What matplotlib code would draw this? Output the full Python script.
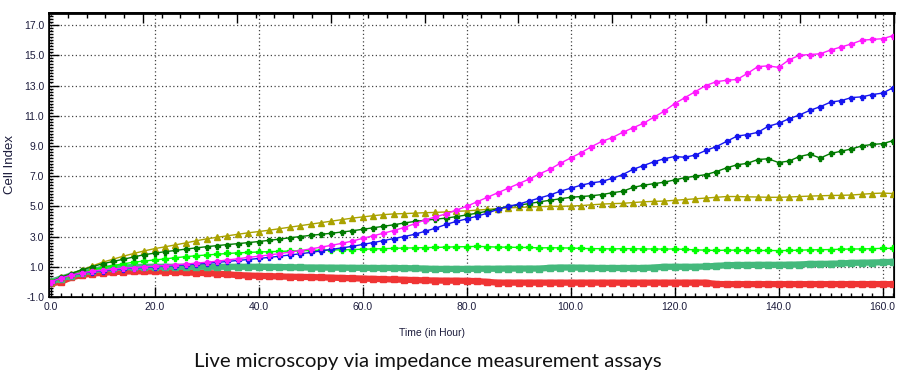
import matplotlib
matplotlib.use("Agg")
import matplotlib.pyplot as plt
from matplotlib.ticker import MultipleLocator, FormatStrFormatter

# time points (hours), every 2 h
hours = list(range(0, 164, 2))

magenta = [0.0, 0.25, 0.45, 0.6, 0.7, 0.78, 0.85, 0.9, 0.95, 1.0,
           1.03, 1.08, 1.13, 1.18, 1.24, 1.3, 1.37, 1.45, 1.53, 1.62,
           1.7, 1.78, 1.87, 1.97, 2.07, 2.18, 2.3, 2.42, 2.55, 2.7,
           2.88, 3.05, 3.22, 3.4, 3.6, 3.85, 4.1, 4.3, 4.5, 4.75,
           5.0, 5.3, 5.6, 5.9, 6.2, 6.5, 6.8, 7.15, 7.45, 7.85,
           8.2, 8.55, 8.95, 9.3, 9.55, 9.9, 10.2, 10.5, 10.9, 11.3,
           11.8, 12.2, 12.6, 13.0, 13.25, 13.35, 13.4, 13.8, 14.25, 14.3,
           14.2, 14.7, 15.0, 15.05, 15.1, 15.35, 15.55, 15.75, 16.0, 16.05,
           16.1, 16.3]

blue = [0.0, 0.25, 0.45, 0.58, 0.68, 0.75, 0.82, 0.87, 0.92, 0.96,
        1.0, 1.04, 1.08, 1.13, 1.18, 1.23, 1.29, 1.35, 1.42, 1.48,
        1.55, 1.62, 1.7, 1.78, 1.86, 1.95, 2.05, 2.15, 2.25, 2.35,
        2.48, 2.6, 2.73, 2.87, 3.0, 3.15, 3.35, 3.55, 3.8, 4.0,
        4.17, 4.35, 4.55, 4.8, 5.0, 5.15, 5.35, 5.55, 5.75, 6.0,
        6.2, 6.4, 6.55, 6.65, 6.85, 7.1, 7.45, 7.7, 7.95, 8.15,
        8.3, 8.25, 8.4, 8.7, 8.95, 9.3, 9.65, 9.75, 9.9, 10.3,
        10.5, 10.8, 11.05, 11.35, 11.6, 11.9, 12.0, 12.2, 12.25, 12.4,
        12.5, 12.85]

dark_green = [0.0, 0.3, 0.55, 0.8, 1.0, 1.2, 1.35, 1.5, 1.65, 1.8,
              1.9, 2.0, 2.08, 2.17, 2.25, 2.33, 2.4, 2.47, 2.53, 2.6,
              2.67, 2.75, 2.83, 2.92, 3.0, 3.08, 3.15, 3.22, 3.3, 3.38,
              3.48, 3.58, 3.68, 3.78, 3.9, 4.0, 4.08, 4.15, 4.22, 4.32,
              4.43, 4.55, 4.68, 4.85, 5.0, 5.08, 5.18, 5.3, 5.4, 5.5,
              5.6, 5.65, 5.7, 5.78, 5.9, 6.0, 6.25, 6.4, 6.5, 6.6,
              6.75, 6.9, 7.0, 7.1, 7.3, 7.55, 7.75, 7.85, 8.1, 8.15,
              7.9, 8.0, 8.3, 8.45, 8.2, 8.5, 8.65, 8.8, 9.0, 9.1,
              9.15, 9.35]

olive = [0.0, 0.3, 0.55, 0.8, 1.05, 1.3, 1.5, 1.7, 1.88, 2.05,
         2.2, 2.32, 2.45, 2.58, 2.72, 2.85, 2.95, 3.05, 3.15, 3.25,
         3.33, 3.42, 3.52, 3.62, 3.72, 3.82, 3.92, 4.02, 4.12, 4.22,
         4.3, 4.38, 4.45, 4.5, 4.52, 4.55, 4.58, 4.6, 4.63, 4.67,
         4.7, 4.75, 4.8, 4.85, 4.9, 4.93, 4.96, 4.98, 5.0, 5.0,
         5.02, 5.05, 5.1, 5.15, 5.18, 5.2, 5.25, 5.3, 5.33, 5.35,
         5.4, 5.45, 5.5, 5.55, 5.6, 5.65, 5.65, 5.63, 5.62, 5.6,
         5.6, 5.62, 5.65, 5.68, 5.7, 5.72, 5.73, 5.75, 5.8, 5.85,
         5.88, 5.85]

lime = [0.0, 0.25, 0.45, 0.62, 0.8, 0.95, 1.08, 1.2, 1.3, 1.38,
        1.45, 1.52, 1.6, 1.67, 1.73, 1.78, 1.83, 1.88, 1.92, 1.95,
        1.98, 2.0, 2.02, 2.04, 2.06, 2.08, 2.1, 2.12, 2.12, 2.14,
        2.16, 2.18, 2.2, 2.22, 2.24, 2.25, 2.27, 2.28, 2.3, 2.32,
        2.33, 2.35, 2.33, 2.3, 2.3, 2.28, 2.28, 2.25, 2.26, 2.25,
        2.24, 2.22, 2.2, 2.2, 2.18, 2.2, 2.2, 2.18, 2.18, 2.17,
        2.18, 2.15, 2.12, 2.1, 2.08, 2.1, 2.1, 2.08, 2.08, 2.08,
        2.07, 2.08, 2.1, 2.12, 2.13, 2.14, 2.16, 2.18, 2.18, 2.2,
        2.22, 2.22]

sea_green = [0.0, 0.22, 0.42, 0.6, 0.75, 0.85, 0.92, 0.96, 0.98, 1.0,
             1.0, 1.0, 1.0, 1.0, 1.0, 1.0, 1.0, 1.0, 1.0, 1.0,
             1.0, 0.99, 0.98, 0.97, 0.96, 0.95, 0.95, 0.94, 0.94, 0.93,
             0.93, 0.92, 0.92, 0.92, 0.91, 0.9, 0.88, 0.86, 0.86, 0.86,
             0.86, 0.87, 0.87, 0.87, 0.88, 0.88, 0.88, 0.88, 0.93, 0.95,
             0.95, 0.94, 0.93, 0.92, 0.92, 0.92, 0.92, 0.92, 0.95, 1.0,
             1.0, 1.0, 1.0, 1.02, 1.06, 1.1, 1.12, 1.12, 1.13, 1.13,
             1.13, 1.14, 1.15, 1.19, 1.19, 1.2, 1.22, 1.26, 1.27, 1.28,
             1.3, 1.33]

red = [-0.1, 0.0, 0.3, 0.45, 0.55, 0.6, 0.65, 0.68, 0.7, 0.7,
       0.7, 0.68, 0.66, 0.63, 0.6, 0.58, 0.55, 0.5, 0.45, 0.42,
       0.4, 0.38, 0.36, 0.34, 0.33, 0.32, 0.3, 0.28, 0.26, 0.24,
       0.22, 0.2, 0.18, 0.16, 0.14, 0.12, 0.1, 0.09, 0.08, 0.08,
       0.07, 0.05, 0.0, -0.05, -0.05, -0.05, -0.05, -0.05, -0.05, -0.05,
       -0.05, -0.05, -0.05, -0.05, -0.05, -0.05, -0.05, -0.05, -0.05, -0.05,
       -0.05, -0.05, -0.05, -0.05, -0.14, -0.15, -0.15, -0.15, -0.15, -0.15,
       -0.15, -0.15, -0.15, -0.15, -0.15, -0.15, -0.15, -0.15, -0.15, -0.15,
       -0.15, -0.15]

fig = plt.figure(figsize=(9, 3.85), dpi=100)
ax = fig.add_axes([0.0544, 0.2286, 0.939, 0.7376])

# thick square bands first
ax.plot(hours, red, color="#f03434", lw=4.5, marker="s", ms=4.5, zorder=3)
ax.plot(hours, sea_green, color="#44b97c", lw=4.5, marker="s", ms=4.5, zorder=3)
ax.plot(hours, lime, color="#00ff00", lw=1.0, marker="P", ms=3.8, zorder=4)
ax.plot(hours, olive, color="#aaa200", lw=1.0, marker="^", ms=4, zorder=4)
ax.plot(hours, dark_green, color="#007a00", lw=1.0, marker="P", ms=3.6, zorder=5)
ax.plot(hours, blue, color="#1515ee", lw=1.0, marker="P", ms=3.6, zorder=5)
ax.plot(hours, magenta, color="#ff1aff", lw=1.0, marker="P", ms=3.6, zorder=6)

ax.set_xlim(-0.3, 162.2)
ax.set_ylim(-1.0, 17.8)

ax.xaxis.set_major_locator(MultipleLocator(20))
ax.xaxis.set_minor_locator(MultipleLocator(2))
ax.yaxis.set_major_locator(plt.FixedLocator([-1, 1, 3, 5, 7, 9, 11, 13, 15, 17]))
ax.yaxis.set_minor_locator(MultipleLocator(0.2))
ax.xaxis.set_major_formatter(FormatStrFormatter("%.1f"))
ax.yaxis.set_major_formatter(FormatStrFormatter("%.1f"))

ax.tick_params(which="both", direction="in", top=False, right=False,
               labelsize=7.5, labelcolor="#1c1c3c", width=1)
ax.tick_params(which="major", length=7)
ax.tick_params(which="minor", length=3)
for lab in ax.get_xticklabels() + ax.get_yticklabels():
    lab.set_fontfamily("Liberation Sans")

ax.grid(True, which="major", color="#444444", linestyle=(0, (1, 2)), lw=0.9)
for s in ax.spines.values():
    s.set_linewidth(1.2)
    s.set_color("black")

# top axis with its own tick scale, no labels
top = ax.twiny()
top.set_xlim(0, 9)
top.xaxis.set_major_locator(MultipleLocator(1))
top.xaxis.set_minor_locator(MultipleLocator(0.2))
top.tick_params(which="both", direction="in", labeltop=False, width=1)
top.tick_params(which="major", length=7)
top.tick_params(which="minor", length=3.5)
top.spines["top"].set_linewidth(2)

fig.text(0.48, 0.135, "Time (in Hour)", ha="center", va="center", fontsize=7.5,
         color="#1c1c3c", family="Liberation Sans")
fig.text(0.011, 0.574, "Cell Index", ha="center", va="center", rotation=90,
         fontsize=9.5, color="#1c1c3c", family="Liberation Sans")
fig.text(0.475, 0.06, "Live microscopy via impedance measurement assays",
         ha="center", va="center", fontsize=14.7, color="#111111", family="Lato")

fig.savefig("out.png", dpi=100)
